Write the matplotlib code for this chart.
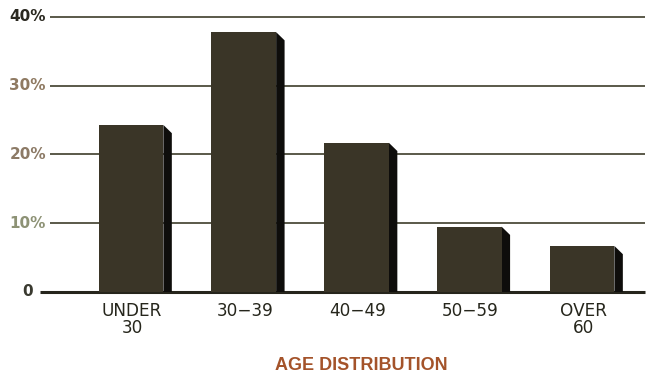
import matplotlib
matplotlib.use("Agg")
import matplotlib.pyplot as plt
from matplotlib.patches import Polygon
import matplotlib.transforms as mtransforms

# Age distribution (% of respondents)
categories = ["UNDER\n30", "30−39", "40−49", "50−59", "OVER\n60"]
shares = [24.3, 37.8, 21.7, 9.5, 6.7]
tick_values = [0, 10, 20, 30, 40]
tick_labels = ["0", "10%", "20%", "30%", "40%"]
tick_colors = ["#3a3a30", "#8d9275", "#8c7a66", "#8f7a62", "#2a2820"]

face_color = "#3a3527"
side_color = "#0e0d0b"
grid_color = "#4d4c3c"

fig = plt.figure(figsize=(6.49, 3.73), dpi=100)
fig.patch.set_facecolor("white")
ax = fig.add_axes([50 / 649, (373 - 292) / 373, 595 / 649, 275 / 373])
ax.set_xlim(-0.718, 4.559)
ax.set_ylim(0, 40)
ax.axis("off")

# gridlines, extending a little into the left margin
for v in tick_values:
    if v == 0:
        ax.plot([-0.81, 4.559], [0, 0], color="#26251c", lw=2.2,
                clip_on=False, zorder=1, solid_capstyle="butt")
    else:
        ax.plot([-0.72, 4.559], [v, v], color=grid_color, lw=1.3,
                clip_on=False, zorder=1, solid_capstyle="butt")

# tick labels
label_tf = mtransforms.blended_transform_factory(fig.transFigure, ax.transData)
for v, lab, col in zip(tick_values, tick_labels, tick_colors):
    xr = 33 / 649 if v == 0 else 46 / 649
    ax.text(xr, v, lab, transform=label_tf, ha="right", va="center",
            fontsize=11, fontweight="bold", color=col,
            family="Liberation Sans Narrow")

# bars with a bevelled dark side face
width = 0.575
dx, dy = 0.075, 1.2
xs = list(range(len(categories)))
ax.bar(xs, shares, width=width, color=face_color, zorder=3, linewidth=0)
for x, h in zip(xs, shares):
    right = x + width / 2
    side = Polygon([(right, h), (right + dx, h - dy), (right + dx, 0), (right, 0)],
                   closed=True, facecolor=side_color, edgecolor="none", zorder=2)
    ax.add_patch(side)

# category labels under the bars
cat_tf = mtransforms.blended_transform_factory(ax.transData, fig.transFigure)
for x, lab in zip(xs, categories):
    ax.text(x + 0.01, (373 - 302) / 373, lab, transform=cat_tf, ha="center",
            va="top", fontsize=12.2, color="#26261c", linespacing=0.95,
            family="DejaVu Sans")

fig.text(361 / 649, (373 - 365.5) / 373, "AGE DISTRIBUTION", ha="center",
         va="center", fontsize=13, fontweight="bold", color="#a4532a",
         family="Liberation Sans")

fig.savefig("out.png", dpi=100, facecolor="white")
